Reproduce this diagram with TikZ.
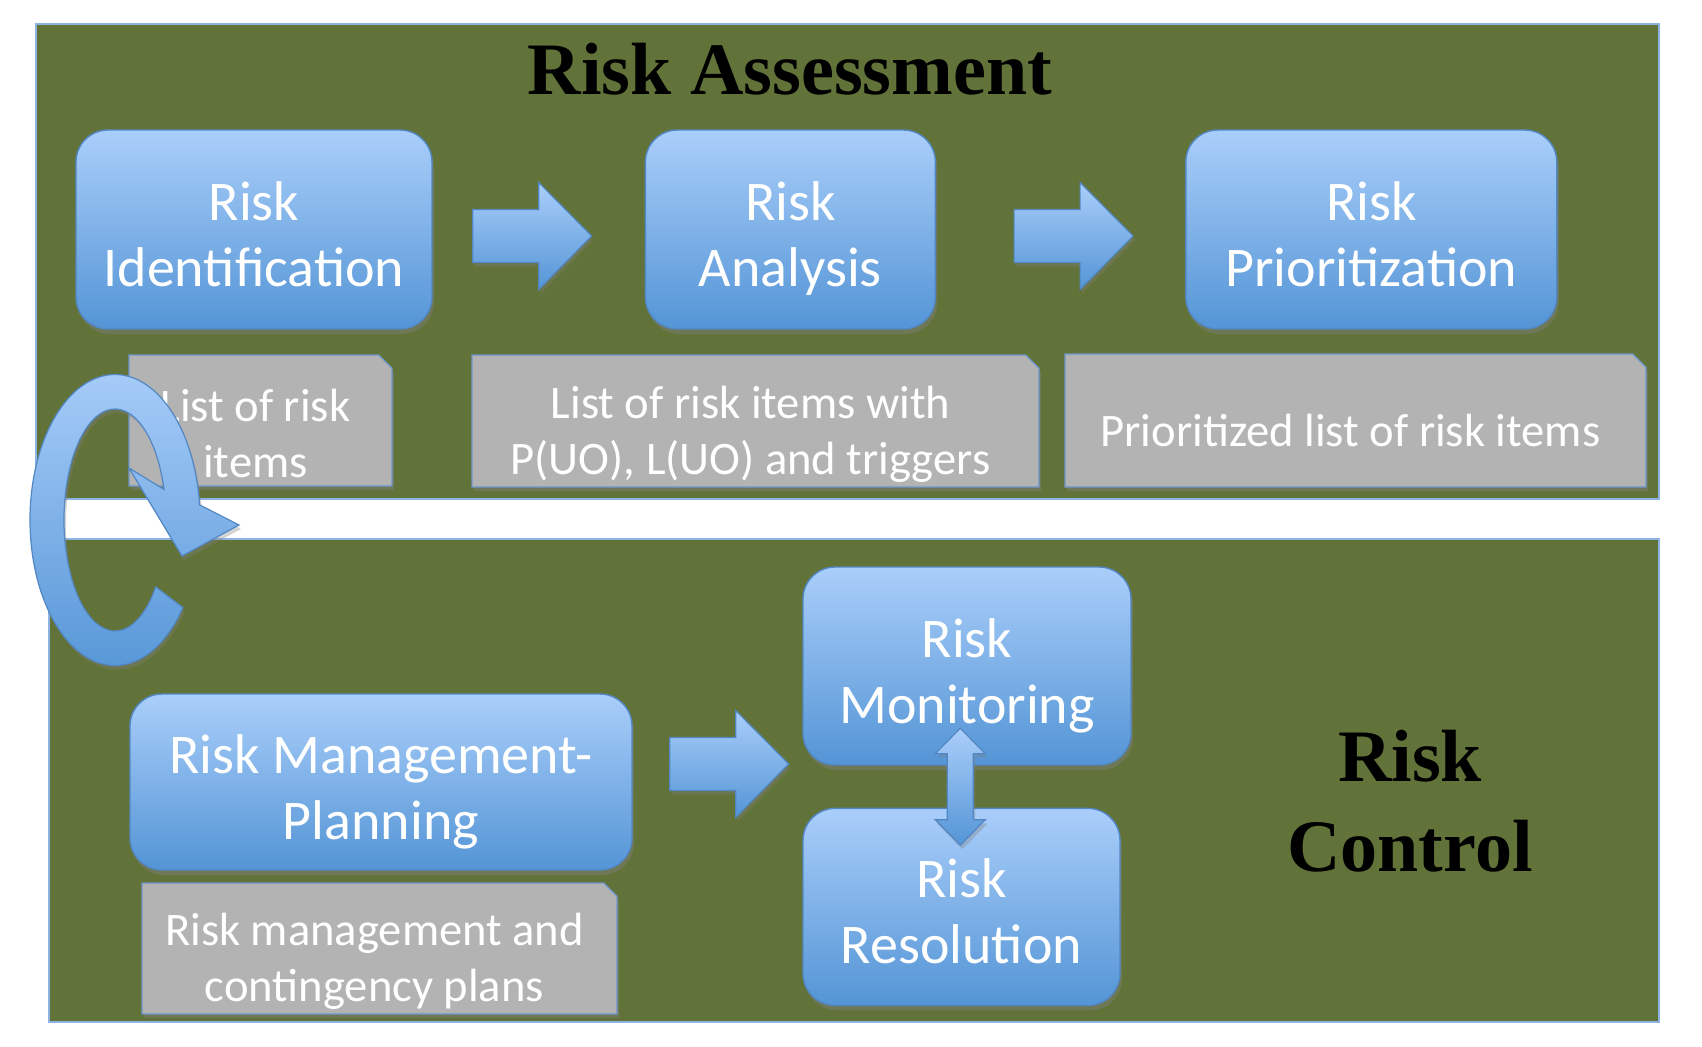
\documentclass[tikz,border=0pt]{standalone}
\usepackage{fontspec}
\setmainfont{Carlito}
\newfontfamily\titlefont{Liberation Serif}
\usetikzlibrary{positioning,calc,shapes.misc,shadows}

\definecolor{panelgreen}{RGB}{98,115,58}
\definecolor{panelline}{RGB}{141,179,226}
\definecolor{boxtop}{RGB}{170,206,250}
\definecolor{boxbot}{RGB}{84,149,214}
\definecolor{boxline}{RGB}{83,135,196}
\definecolor{notegrey}{RGB}{179,179,179}
\definecolor{noteline}{RGB}{110,150,205}

\begin{document}
\begin{tikzpicture}[x=0.5pt, y=-0.5pt,
    panel/.style={fill=panelgreen, draw=panelline, line width=0.8pt},
    riskbox/.style={draw=boxline, line width=0.7pt, top color=boxtop, bottom color=boxbot,
      rounded corners=16pt, text=white, align=center, font=\fontsize{28}{33}\selectfont,
      text height=57pt, text depth=0pt,
      drop shadow={opacity=0.4, shadow xshift=1pt, shadow yshift=-2.5pt}},
    notebox/.style={chamfered rectangle, chamfered rectangle corners=north east,
      chamfered rectangle sep=10.5pt, fill=notegrey, draw=noteline, line width=0.6pt,
      drop shadow={opacity=0.4, shadow xshift=1pt, shadow yshift=-2pt}},
    notetext/.style={text=white, align=center, font=\fontsize{23.3}{28}\selectfont},
    heading/.style={font=\titlefont\bfseries\fontsize{37}{45}\selectfont, align=center},
    flow/.style={draw=boxline, line width=0.6pt, top color=boxtop, bottom color=boxbot,
      drop shadow={opacity=0.35, shadow xshift=1pt, shadow yshift=-2pt}},
    rightarrow/.pic={\path[flow] (0,-26.5) -- (66,-26.5) -- (66,-53.5) -- (119,0) -- (66,53.5) -- (66,26.5) -- (0,26.5) -- cycle;},
    updownarrow/.pic={\path[flow] (0,-58.5) -- (25,-33) -- (13,-33) -- (13,33) -- (25,33) -- (0,58.5)
      -- (-25,33) -- (-13,33) -- (-13,-33) -- (-25,-33) -- cycle;}]
  \useasboundingbox (0,0) rectangle (1702,1046);

  % the two panels
  \path[panel] (36,24) rectangle (1659,499);
  \path[panel] (49,539) rectangle (1659,1022);

  \node[heading] (assess) at (790,69) {Risk Assessment};
  \node[heading] (control) at (1410,801.6) {Risk\\Control};

  % assessment
  \node[riskbox, minimum width=178pt, minimum height=99.5pt] (ident) at (254,229.5) {Risk\\Identification};
  \node[riskbox, minimum width=145pt, minimum height=99.5pt, right=106pt of ident] (anal) {Risk\\Analysis};
  \node[riskbox, minimum width=185.5pt, minimum height=99.5pt, right=124.5pt of anal] (prio) {Risk\\Prioritization};
  \pic at ([xshift=20pt,yshift=-3.25pt]ident.east) {rightarrow};
  \pic at ([xshift=39pt,yshift=-3.25pt]anal.east) {rightarrow};

  \node[notebox, minimum width=131.5pt, minimum height=65.5pt] (out1) at (260.5,420.5) {};
  \node[notetext] (out1txt) at ([xshift=-2.5pt,yshift=-6.5pt]out1.center) {List of risk\\items};
  \node[notebox, minimum width=283.5pt, minimum height=66pt] (out2) at (755.5,421) {};
  \node[notetext] (out2txt) at ([xshift=-2.5pt,yshift=-6.5pt]out2.center) {List of risk items with\\P(UO), L(UO) and triggers};
  \node[notebox, minimum width=290.5pt, minimum height=66.5pt] (out3) at (1355.5,420.5) {};
  \node[notetext] (out3txt) at ([xshift=-2.5pt,yshift=-5pt]out3.center) {Prioritized list of risk items};

  % control
  \node[riskbox, minimum width=251pt, minimum height=88pt] (plan) at (381,782) {Risk Management-\\Planning};
  \node[riskbox, minimum width=164pt, minimum height=99pt] (mon) at (967,666) {Risk\\Monitoring};
  \node[riskbox, minimum width=158.5pt, minimum height=98.5pt, below=21pt of mon.south west, anchor=north west] (res) {Risk\\Resolution};
  \pic at ([xshift=18.5pt,yshift=9pt]plan.east) {rightarrow};
  \pic at ([xshift=-2pt]$(mon.south)!0.5!(res.north)$) {updownarrow};

  \node[notebox, minimum width=237.5pt, minimum height=65.5pt] (out4) at (379.5,948.5) {};
  \node[notetext] (out4txt) at ([xshift=-2.5pt,yshift=-6.5pt]out4.center) {Risk management and\\contingency plans};

  % cycle back from assessment to control
  \path[flow] ({115+51*cos(37)},{520+111*sin(37)}) -- ({115+85*cos(37)},{520+145.5*sin(37)})
    arc[start angle=37, end angle=354, x radius=85, y radius=145.5]
    -- (239,525) -- (182,556) -- (129,468) -- ({115+51*cos(344)},{520+111*sin(344)})
    arc[start angle=344, end angle=37, x radius=51, y radius=111] -- cycle;
\end{tikzpicture}
\end{document}
